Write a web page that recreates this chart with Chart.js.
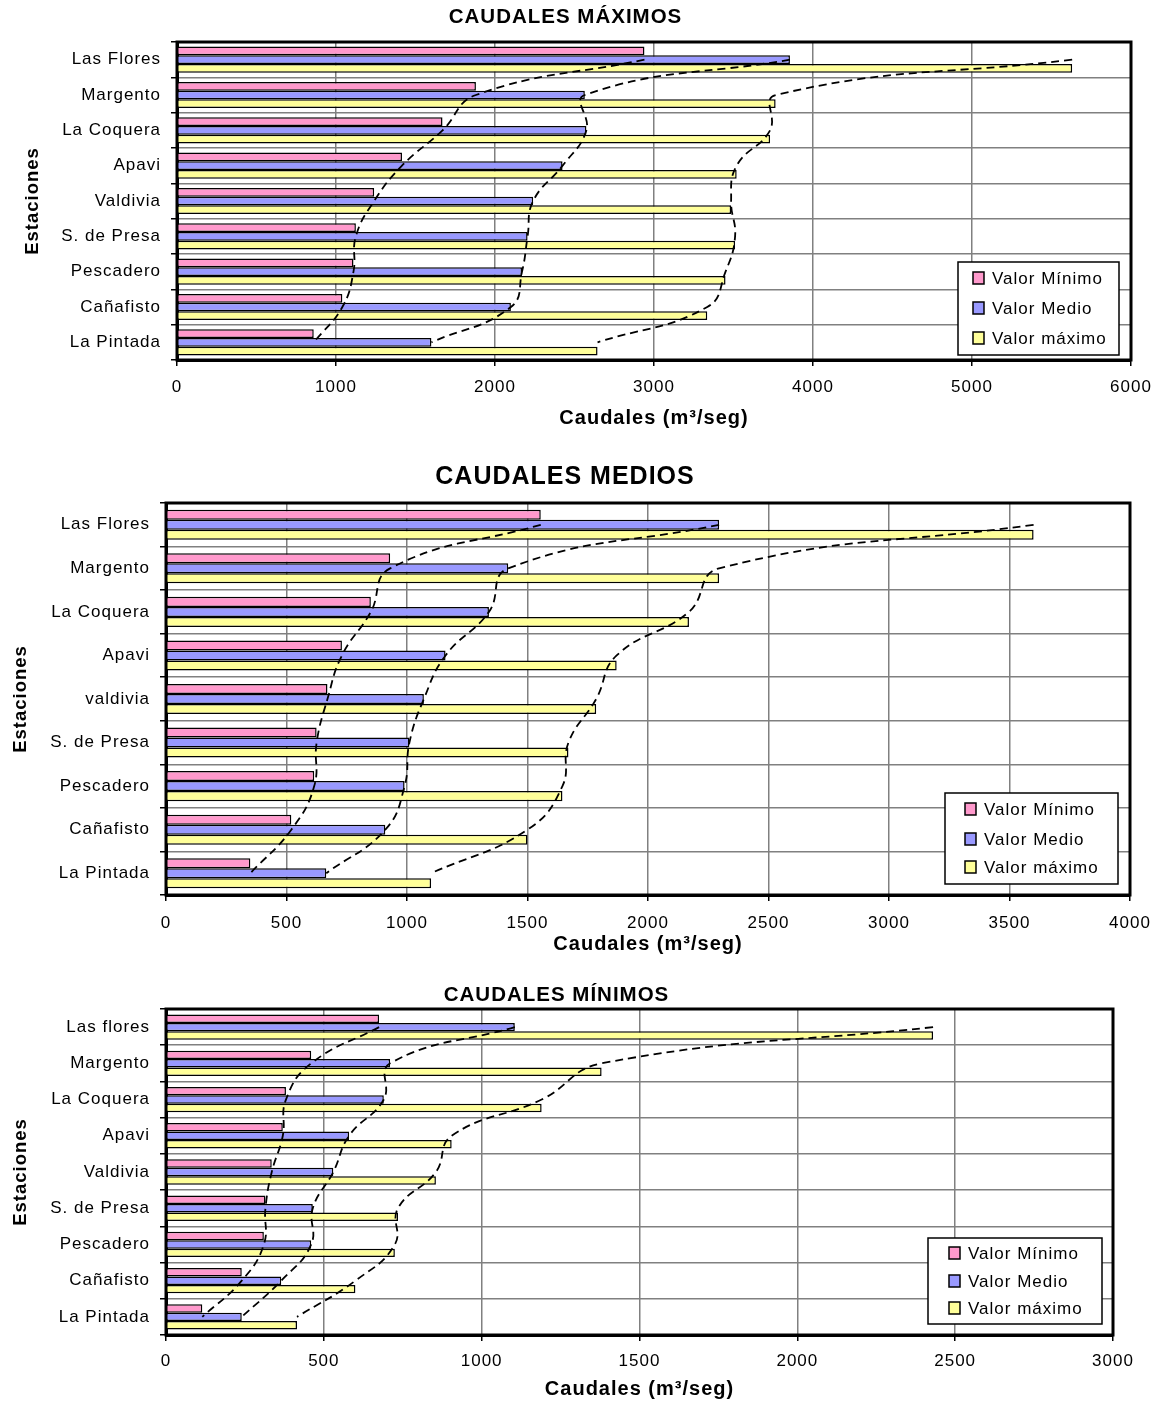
<!DOCTYPE html>
<html>
<head>
<meta charset="utf-8">
<script src="https://cdn.jsdelivr.net/npm/chart.js@4.4.1/dist/chart.umd.min.js"></script>
<style>
  html, body { margin: 0; padding: 0; background: #fff; }
  #wrap { position: relative; width: 1158px; height: 1403px; }
  .box { position: absolute; left: 0; width: 1158px; }
</style>
</head>
<body>
<div id="wrap">
  <div class="box" style="top:0;height:440px"><canvas id="c1"></canvas></div>
  <div class="box" style="top:440px;height:520px"><canvas id="c2"></canvas></div>
  <div class="box" style="top:960px;height:443px"><canvas id="c3"></canvas></div>
</div>
<script>
// estaciones (de arriba hacia abajo)
const estacionesMax = ['Las Flores', 'Margento', 'La Coquera', 'Apavi', 'Valdivia', 'S. de Presa', 'Pescadero', 'Cañafisto', 'La Pintada'];
const estacionesMed = ['Las Flores', 'Margento', 'La Coquera', 'Apavi', 'valdivia', 'S. de Presa', 'Pescadero', 'Cañafisto', 'La Pintada'];
const estacionesMin = ['Las flores', 'Margento', 'La Coquera', 'Apavi', 'Valdivia', 'S. de Presa', 'Pescadero', 'Cañafisto', 'La Pintada'];

// CAUDALES MÁXIMOS (m3/seg)
const maxMinimo = [2940, 1880, 1670, 1415, 1240, 1125, 1110, 1040, 860];
const maxMedio  = [3855, 2565, 2575, 2425, 2240, 2205, 2170, 2100, 1600];
const maxMaximo = [5630, 3765, 3730, 3520, 3485, 3510, 3450, 3335, 2645];

// CAUDALES MEDIOS
const medMinimo = [1555, 930, 850, 730, 670, 625, 615, 520, 350];
const medMedio  = [2295, 1420, 1340, 1160, 1070, 1010, 990, 910, 665];
const medMaximo = [3600, 2295, 2170, 1870, 1785, 1670, 1645, 1500, 1100];

// CAUDALES MÍNIMOS
const minMinimo = [675, 460, 380, 370, 335, 315, 310, 240, 115];
const minMedio  = [1105, 710, 690, 580, 530, 465, 460, 365, 240];
const minMaximo = [2430, 1380, 1190, 905, 855, 735, 725, 600, 415];

const series = ['Valor Mínimo', 'Valor Medio', 'Valor máximo'];
const colores = ['#FF99CC', '#9999FF', '#FFFF99'];

Chart.defaults.font.family = "'Liberation Sans', Arial, sans-serif";
Chart.defaults.color = '#000';

// espaciado de letras como en la figura original
const spacing = {
  id: 'spacing',
  beforeDraw(chart) { chart.ctx.letterSpacing = '1px'; }
};

// marco grueso del area de trazado
const frame = {
  id: 'frame',
  afterDatasetsDraw(chart) {
    const { ctx, chartArea: a } = chart;
    ctx.save();
    ctx.strokeStyle = '#000';
    ctx.lineWidth = 3;
    ctx.strokeRect(a.left, a.top, a.right - a.left, a.bottom - a.top);
    ctx.restore();
  }
};

// leyenda dentro del grafico, abajo a la derecha
const legendBox = {
  id: 'legendBox',
  afterDraw(chart, args, o) {
    const { ctx, chartArea: a } = chart;
    const x = a.right - o.offR - o.w, y = a.bottom - o.offB - o.h;
    ctx.save();
    ctx.letterSpacing = '1px';
    ctx.fillStyle = '#fff';
    ctx.strokeStyle = '#000';
    ctx.lineWidth = 1.5;
    ctx.fillRect(x, y, o.w, o.h);
    ctx.strokeRect(x, y, o.w, o.h);
    ctx.font = "17px 'Liberation Sans', Arial, sans-serif";
    ctx.textBaseline = 'middle';
    chart.data.datasets.filter(d => d.type !== 'line').forEach((d, i) => {
      const cy = y + o.rows[i];
      ctx.fillStyle = d.backgroundColor;
      ctx.fillRect(x + o.mark, cy - 6, 11, 12);
      ctx.strokeRect(x + o.mark, cy - 6, 11, 12);
      ctx.fillStyle = '#000';
      ctx.fillText(d.label, x + o.text, cy + 1);
    });
    ctx.restore();
  }
};

function makeChart(id, labels, values, L) {
  const bars = values.map((v, i) => ({
    label: series[i],
    data: v,
    backgroundColor: colores[i],
    borderColor: '#000',
    borderWidth: 1.5,
    categoryPercentage: L.catPct,
    barPercentage: 1.0,
    order: 1
  }));
  const curves = values.map(v => ({
    type: 'line',
    label: '',
    data: v,
    borderColor: '#000',
    borderWidth: 1.8,
    borderDash: [8, 5],
    pointRadius: 0,
    fill: false,
    tension: 0.45,
    order: 0
  }));

  new Chart(document.getElementById(id), {
    type: 'bar',
    data: { labels: labels, datasets: bars.concat(curves) },
    options: {
      indexAxis: 'y',
      responsive: true,
      maintainAspectRatio: false,
      animation: false,
      layout: { padding: { left: 0, right: L.padRight, top: 0, bottom: 0 } },
      plugins: {
        legend: { display: false },
        tooltip: { enabled: false },
        title: {
          display: true,
          text: L.title,
          color: '#000',
          font: { size: L.titleSize, weight: 'bold' },
          padding: { top: L.titleTop, bottom: L.titleBottom }
        },
        legendBox: L.legend
      },
      scales: {
        x: {
          min: 0,
          max: L.xMax,
          afterFit: s => { s.height = L.xHeight; s.paddingLeft = 0; s.paddingRight = 0; },
          ticks: {
            stepSize: L.step, color: '#000', font: { size: 17 }, padding: L.tickPad, maxRotation: 0,
            callback: v => String(v)
          },
          grid: { color: '#808080', lineWidth: 1.5, tickLength: 6, tickColor: '#000', tickWidth: 1.5 },
          border: { display: true, color: '#000', width: 3 },
          title: {
            display: true,
            text: 'Caudales (m³/seg)',
            color: '#000',
            font: { size: 20, weight: 'bold' },
            padding: { top: 0, bottom: L.xTitleBottom }
          }
        },
        y: {
          offset: true,
          afterFit: s => { s.width = L.yWidth; },
          ticks: { color: '#000', font: { size: 17 }, padding: 10 },
          grid: { offset: true, color: '#808080', lineWidth: 1.5, tickLength: 6, tickColor: '#000', tickWidth: 1.5 },
          border: { display: true, color: '#000', width: 3 },
          title: {
            display: true,
            text: 'Estaciones',
            color: '#000',
            font: { size: 18.5, weight: 'bold' },
            padding: { top: L.yTitlePad, bottom: 0 }
          }
        }
      }
    },
    plugins: [spacing, frame, legendBox]
  });
}

makeChart('c1', estacionesMax, [maxMinimo, maxMedio, maxMaximo], {
  title: 'CAUDALES MÁXIMOS', titleSize: 20.5, titleTop: 4.7, titleBottom: 12.7,
  yWidth: 177, padRight: 27, xHeight: 80, tickPad: 11, xTitleBottom: 10, yTitlePad: 22,
  catPct: 0.74, xMax: 6000, step: 1000,
  legend: { offR: 12, offB: 5, w: 161, h: 93, rows: [16, 46, 76], mark: 15, text: 34 }
});

makeChart('c2', estacionesMed, [medMinimo, medMedio, medMaximo], {
  title: 'CAUDALES MEDIOS', titleSize: 25, titleTop: 22, titleBottom: 11,
  yWidth: 166, padRight: 28, xHeight: 65, tickPad: 11.8, xTitleBottom: 4, yTitlePad: 10,
  catPct: 0.69, xMax: 4000, step: 500,
  legend: { offR: 12, offB: 11, w: 173, h: 91, rows: [16, 46, 74], mark: 20, text: 39 }
});

makeChart('c3', estacionesMin, [minMinimo, minMedio, minMaximo], {
  title: 'CAUDALES MÍNIMOS', titleSize: 20.5, titleTop: 22.7, titleBottom: 1.7,
  yWidth: 166, padRight: 45, xHeight: 68, tickPad: 9.8, xTitleBottom: 2, yTitlePad: 10,
  catPct: 0.70, xMax: 3000, step: 500,
  legend: { offR: 11, offB: 11, w: 174, h: 86, rows: [15, 43, 70], mark: 21, text: 40 }
});
</script>
</body>
</html>
